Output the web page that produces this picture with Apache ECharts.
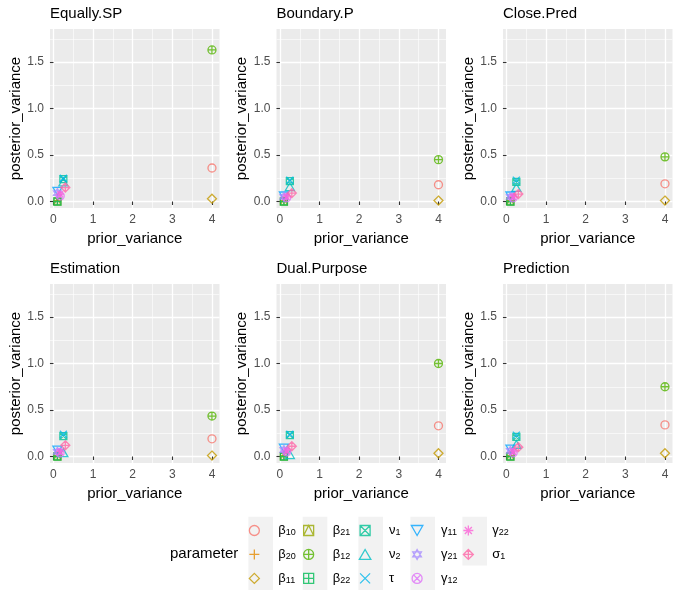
<!DOCTYPE html>
<html>
<head>
<meta charset="utf-8">
<script src="https://cdn.jsdelivr.net/npm/echarts@6/dist/echarts.min.js"></script>
<style>
html, body { margin: 0; padding: 0; background: #fff; }
#main { width: 681px; height: 598px; }
</style>
</head>
<body>
<div id="main"></div>
<script>
// facets and parameters
var panels = ['Equally.SP', 'Boundary.P', 'Close.Pred', 'Estimation', 'Dual.Purpose', 'Prediction']
var params = ['β10', 'β20', 'β11', 'β21', 'β12', 'β22', 'ν1', 'ν2', 'τ', 'γ11', 'γ21', 'γ12', 'γ22', 'σ1']

// prior variance of each parameter (same in every facet)
var priorVar = [4, 0.1, 4, 0.1, 4, 0.1, 0.25, 0.25, 0.25, 0.1, 0.1, 0.17, 0.17, 0.3]

// posterior variance, one list per facet, same order as params
var postEquallySP = [0.36, 0.01, 0.03, 0.0, 1.63, 0.0, 0.24, 0.21, 0.25, 0.11, 0.09, 0.06, 0.08, 0.15]
var postBoundaryP = [0.18, 0.01, 0.01, 0.0, 0.45, 0.0, 0.22, 0.16, 0.23, 0.06, 0.05, 0.04, 0.05, 0.09]
var postClosePred = [0.19, 0.01, 0.01, 0.0, 0.48, 0.0, 0.21, 0.15, 0.23, 0.06, 0.05, 0.04, 0.05, 0.08]
var postEstimation = [0.19, 0.01, 0.01, 0.0, 0.435, 0.0, 0.22, 0.04, 0.24, 0.07, 0.05, 0.04, 0.05, 0.12]
var postDualPurpose = [0.33, 0.01, 0.035, 0.0, 1.0, 0.0, 0.23, 0.02, 0.24, 0.09, 0.07, 0.05, 0.06, 0.11]
var postPrediction = [0.34, 0.01, 0.035, 0.0, 0.75, 0.0, 0.21, 0.13, 0.23, 0.08, 0.06, 0.04, 0.05, 0.10]
var posterior = [postEquallySP, postBoundaryP, postClosePred, postEstimation, postDualPurpose, postPrediction]

// tick labels
var xTicks = [0, 1, 2, 3, 4]
var xMinor = [0.5, 1.5, 2.5, 3.5]
var yTicks = [0, 0.5, 1, 1.5]
var yMinor = [0.25, 0.75, 1.25, 1.75]

// ggplot hue palette, 14 levels
var colors = ['#F8766D', '#E38900', '#C49A00', '#99A800', '#53B400', '#00BC56', '#00C094',
	'#00BFC4', '#00B6EB', '#06A4FF', '#A58AFF', '#DF70F8', '#FB61D7', '#FF66A8']

var C = 'M0,-10A10,10 0 1 1 0,10A10,10 0 1 1 0,-10Z'
var SQ = 'M-10,-10L10,-10L10,10L-10,10Z'
var DM = 'M0,-10L10,0L0,10L-10,0Z'
var PL = 'M-10,0L10,0M0,-10L0,10'
var XX = 'M-10,-10L10,10M10,-10L-10,10'
var shapes = [
	'path://' + C,
	'path://' + PL,
	'path://' + DM,
	'path://' + SQ + 'M-10,10L0,-10L10,10',
	'path://' + C + PL,
	'path://' + SQ + PL,
	'path://' + SQ + XX,
	'path://M0,-10L11.5,10L-11.5,10Z',
	'path://' + XX,
	'path://M0,10L11.5,-10L-11.5,-10Z',
	'path://M0,-10L8.66,5L-8.66,5ZM0,10L8.66,-5L-8.66,-5Z',
	'path://' + C + 'M-7.07,-7.07L7.07,7.07M7.07,-7.07L-7.07,7.07',
	'path://' + PL + 'M-7.07,-7.07L7.07,7.07M7.07,-7.07L-7.07,7.07',
	'path://' + DM + PL
]
var sizes = [8, 8, 9, 7, 8, 7, 7, 9, 7, 9, 9, 8, 8, 9]

var xMin = -0.087, xMax = 4.19
var yMin = -0.07, yMax = 1.855
var colLeft = [50, 276.5, 503]
var rowTop = [29, 284]
var panelW = 169.5, panelH = 179

var font = 'Liberation Sans'

var grids = [], xAxes = [], yAxes = [], titles = [], series = []

for (let p = 0; p < panels.length; p++) {
	let left = colLeft[p % 3]
	let top = rowTop[Math.floor(p / 3)]
	grids.push({
		left: left, top: top, width: panelW, height: panelH,
		show: true, backgroundColor: '#EBEBEB', borderWidth: 0,
		outerBoundsMode: 'none'
	})
	titles.push({
		text: panels[p], left: left, top: top - 23, padding: 0,
		textStyle: { fontFamily: font, fontSize: 15, fontWeight: 'normal', color: '#000' }
	})
	xAxes.push({
		gridIndex: p, type: 'value', min: xMin, max: xMax, position: 'bottom',
		name: 'prior_variance', nameLocation: 'middle', nameGap: 23,
		nameTextStyle: { fontFamily: font, fontSize: 15, color: '#000' },
		axisLine: { show: false },
		axisTick: { show: true, length: 3.5, customValues: xTicks, lineStyle: { color: '#333', width: 1.1 } },
		axisLabel: { customValues: xTicks, color: '#4D4D4D', fontFamily: font, fontSize: 12, margin: 6 },
		splitLine: { show: true, lineStyle: { color: '#fff', width: 1.3 } }
	})
	xAxes.push({
		gridIndex: p, type: 'value', min: xMin, max: xMax, position: 'bottom',
		axisLine: { show: false },
		axisTick: { show: false, customValues: xMinor },
		axisLabel: { show: false },
		splitLine: { show: true, lineStyle: { color: '#fff', width: 0.6 } }
	})
	yAxes.push({
		gridIndex: p, type: 'value', min: yMin, max: yMax, position: 'left',
		name: 'posterior_variance', nameLocation: 'middle', nameGap: 27,
		nameTextStyle: { fontFamily: font, fontSize: 15, color: '#000' },
		axisLine: { show: false },
		axisTick: { show: true, length: 3.5, customValues: yTicks, lineStyle: { color: '#333', width: 1.1 } },
		axisLabel: {
			customValues: yTicks, color: '#4D4D4D', fontFamily: font, fontSize: 12, margin: 6,
			formatter: function(v) { return v.toFixed(1) }
		},
		splitLine: { show: true, lineStyle: { color: '#fff', width: 1.3 } }
	})
	yAxes.push({
		gridIndex: p, type: 'value', min: yMin, max: yMax, position: 'left',
		axisLine: { show: false },
		axisTick: { show: false, customValues: yMinor },
		axisLabel: { show: false },
		splitLine: { show: true, lineStyle: { color: '#fff', width: 0.6 } }
	})
	for (let k = 0; k < params.length; k++) {
		series.push({
			type: 'scatter', name: params[k],
			xAxisIndex: p * 2, yAxisIndex: p * 2,
			data: [[priorVar[k], posterior[p][k]]],
			symbol: shapes[k], symbolSize: sizes[k], symbolKeepAspect: true,
			itemStyle: { color: 'rgba(0,0,0,0)', borderColor: colors[k], borderWidth: 1.3 },
			silent: true
		})
	}
}

// legend, 3 rows per column
var keyCenters = [260.7, 315, 370.7, 422.7, 474.7]
var legends = [], graphics = []
for (let c = 0; c < keyCenters.length; c++) {
	let names = params.slice(c * 3, c * 3 + 3)
	graphics.push({
		type: 'rect', z: 0,
		shape: { x: keyCenters[c] - 12.3, y: 516.7, width: 24.6, height: names.length * 24.45 },
		style: { fill: '#F2F2F2' }
	})
	legends.push({
		orient: 'vertical', left: keyCenters[c] - 12, top: 524, padding: 0,
		itemWidth: 24, itemHeight: 10, itemGap: 10.45, selectedMode: false,
		data: names,
		itemStyle: { borderWidth: 1.3 },
		formatter: function(n) { return '{g|' + n.charAt(0) + '}{s|' + n.slice(1) + '}' },
		textStyle: {
			padding: [0, 0, 0, 7],
			rich: {
				g: { fontFamily: font, fontSize: 13, lineHeight: 14, color: '#000' },
				s: { fontFamily: font, fontSize: 9, lineHeight: 9, color: '#000', verticalAlign: 'bottom' }
			}
		}
	})
}
graphics.push({
	type: 'text', left: 170, top: 546,
	style: { text: 'parameter', fill: '#000', font: '15px "Liberation Sans"' }
})

var myChart = echarts.init(document.getElementById('main'))
myChart.setOption({
	animation: false,
	textStyle: { fontFamily: font },
	title: titles,
	grid: grids,
	xAxis: xAxes,
	yAxis: yAxes,
	legend: legends,
	graphic: graphics,
	series: series
})
</script>
</body>
</html>
